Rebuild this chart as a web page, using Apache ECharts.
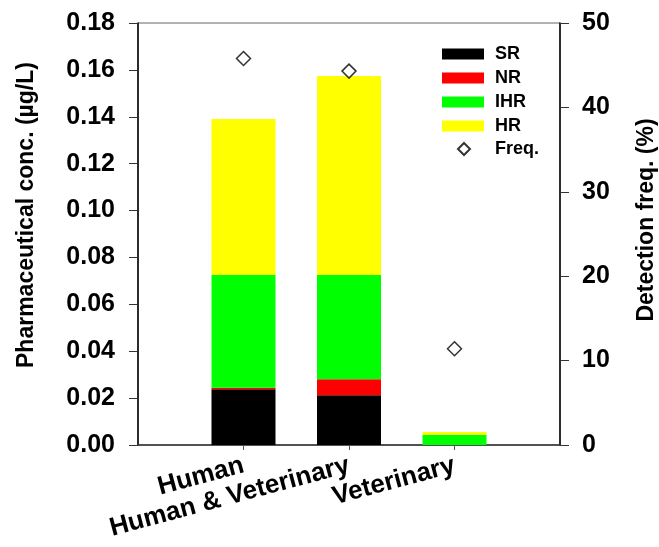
<!DOCTYPE html>
<html>
<head>
<meta charset="utf-8">
<script src="https://cdn.jsdelivr.net/npm/echarts@6.0.0/dist/echarts.min.js"></script>
<style>
  html, body { margin: 0; padding: 0; background: #fff; }
  #chart { width: 659px; height: 547px; }
</style>
</head>
<body>
<div id="chart"></div>
<script>
const categories = ["", "Human", "Human & Veterinary", "Veterinary", ""];
const srValues = [null, 0.0238, 0.0212, 0, null];
const nrValues = [null, 0.0006, 0.0068, 0, null];
const ihrValues = [null, 0.0481, 0.0445, 0.0044, null];
const hrValues = [null, 0.0665, 0.0849, 0.0011, null];
const freqValues = [null, 45.8, 44.3, 11.4, null];
const concTicks = [0, 0.18, 0.02];
const freqTicks = [0, 50, 10];

const FONT = "Liberation Sans, Arial, sans-serif";

function barSeries(name, values, color) {
  return {
    name: name,
    type: "bar",
    stack: "conc",
    data: values,
    barWidth: 64,
    itemStyle: { color: color },
  };
}

function buildOption() {
  return {
    animation: false,
    textStyle: { fontFamily: FONT },
    grid: {
      left: 138, right: 99, top: 23, bottom: 102,
      containLabel: false,
      outerBoundsMode: "none",
      show: true, borderColor: "#666", borderWidth: 1,
    },
    legend: [
      {
        data: ["SR", "NR", "IHR", "HR"],
        orient: "vertical",
        left: 442, top: 42,
        padding: 0, itemGap: 0,
        itemWidth: 42, itemHeight: 11,
        icon: "rect",
        textStyle: { fontSize: 18, fontWeight: "bold", color: "#000", lineHeight: 24, padding: [0, 0, 0, 6] },
      },
      {
        data: ["Freq."],
        orient: "vertical",
        left: 457, top: 137,
        padding: 0,
        itemWidth: 12, itemHeight: 12,
        textStyle: { fontSize: 18, fontWeight: "bold", color: "#000", lineHeight: 24, padding: [0, 0, 0, 20] },
      },
    ],
    xAxis: {
      type: "category",
      data: categories,
      boundaryGap: false,
      axisLine: { lineStyle: { color: "#333", width: 1.5 } },
      axisTick: {
        length: 5,
        interval: (idx, value) => value !== "",
        lineStyle: { color: "#555" },
      },
      axisLabel: {
        interval: 0,
        rotate: 15,
        margin: 20,
        fontSize: 26,
        fontWeight: "bold",
        color: "#000",
      },
    },
    yAxis: [
      {
        type: "value",
        min: concTicks[0], max: concTicks[1], interval: concTicks[2],
        name: "Pharmaceutical conc. (µg/L)",
        nameLocation: "middle",
        nameRotate: 90,
        nameGap: 100,
        nameTextStyle: { fontSize: 23, fontWeight: "bold", color: "#000", padding: [0, 0, 0, 38] },
        splitLine: { show: false },
        axisLine: { show: true, lineStyle: { color: "#000", width: 1.5 } },
        axisTick: { show: true, length: 9, lineStyle: { color: "#333" } },
        axisLabel: {
          margin: 23,
          fontSize: 25,
          fontWeight: "bold",
          color: "#000",
          formatter: (v) => v.toFixed(2),
        },
      },
      {
        type: "value",
        position: "right",
        min: freqTicks[0], max: freqTicks[1], interval: freqTicks[2],
        name: "Detection freq. (%)",
        nameLocation: "middle",
        nameRotate: 90,
        nameGap: 75,
        nameTextStyle: { fontSize: 23, fontWeight: "bold", color: "#000", padding: [0, 0, 0, 28] },
        splitLine: { show: false },
        axisLine: { show: true, lineStyle: { color: "#000", width: 1.5 } },
        axisTick: { show: true, length: 9, lineStyle: { color: "#333" } },
        axisLabel: {
          margin: 22,
          fontSize: 25,
          fontWeight: "bold",
          color: "#000",
        },
      },
    ],
    series: [
      barSeries("SR", srValues, "#000000"),
      barSeries("NR", nrValues, "#ff0000"),
      barSeries("IHR", ihrValues, "#00ff00"),
      barSeries("HR", hrValues, "#ffff00"),
      {
        name: "Freq.",
        type: "scatter",
        yAxisIndex: 1,
        data: freqValues,
        symbol: "diamond",
        symbolSize: 14,
        itemStyle: { color: "#fff", borderColor: "#000", borderWidth: 1.5 },
        z: 5,
      },
    ],
  };
}

function renderChart() {
  const chart = echarts.init(document.getElementById("chart"), null, { renderer: "canvas" });
  chart.setOption(buildOption());
}

document.addEventListener("DOMContentLoaded", renderChart);
</script>
</body>
</html>
